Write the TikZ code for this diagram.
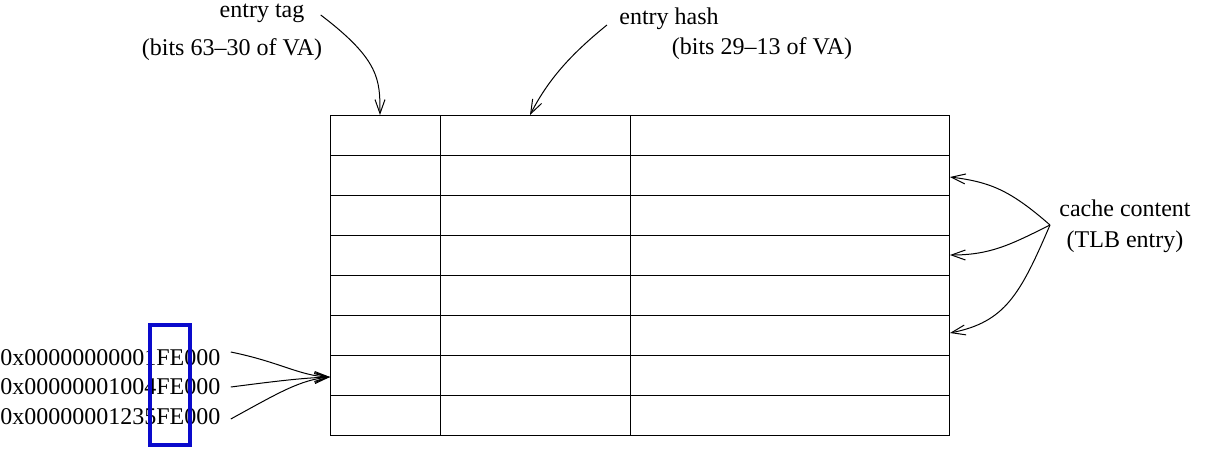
\documentclass[tikz,border=0pt]{standalone}
\usepackage{fontspec}
\setmainfont{Liberation Serif}
\usetikzlibrary{positioning,arrows.meta,calc}
\definecolor{tlbBlue}{HTML}{0A0ACC}
\tikzset{
  lbl/.style={inner sep=0pt, align=center, font=\fontsize{12}{15.5}\selectfont},
  addr/.style={inner sep=0pt, anchor=west, font=\fontsize{12}{14}\selectfont},
  grid/.style={line width=0.5pt, black},
  arr/.style={-{Straight Barb[length=7pt,width=5pt]}, line width=0.5pt, black},
  mark box/.style={draw=tlbBlue, line width=1.8pt},
}

\begin{document}
\begin{tikzpicture}[x=0.5pt, y=-0.5pt]
  \useasboundingbox (0,0) rectangle (1206,450);
  % the table
  \draw[grid] (330,115) rectangle (949,435);
  \draw[grid] (440,115) -- (440,435);
  \draw[grid] (630,115) -- (630,435);
  \foreach \y in {155,195,...,395}
    \draw[grid] (330,\y) -- (949,\y);
  \coordinate (tagcol) at (380,115);
  \coordinate (hashcol) at (530,115);
  \coordinate (row2) at (950,177);
  \coordinate (row4) at (950,255);
  \coordinate (row6) at (950,333);
  \coordinate (row7) at (330,377);
  % labels
  \node[lbl] (tag) at (262,13) {entry tag};
  \node[lbl] (tagbits) at (232,50) {(bits 63--30 of VA)};
  \node[lbl] (hash) at (669,19) {entry hash};
  \node[lbl] (hashbits) at (762,49) {(bits 29--13 of VA)};
  \node[lbl] (cache) at (1125,226) {cache content\\(TLB entry)};
  \node[addr] (va1) at (0,358) {0x00000000001FE000};
  \node[addr] (va2) at (0,387) {0x00000001004FE000};
  \node[addr] (va3) at (0,417) {0x00000001235FE000};
  \draw[mark box] (150,325) rectangle (190,445);
  % arrows
  \draw[arr] ([xshift=8pt,yshift=-1pt]tag.east) .. controls (380,60) and (380,80) .. (tagcol);
  \draw[arr] ([xshift=-6pt,yshift=-3pt]hash.west) .. controls (570,55) and (548,80) .. (hashcol);
  \coordinate (ccsrc) at (1050,225);
  \draw[arr] (ccsrc) .. controls (1010,190) and (990,182) .. (row2);
  \draw[arr] (ccsrc) .. controls (1010,245) and (990,255) .. (row4);
  \draw[arr] (ccsrc) .. controls (1020,295) and (1005,322) .. (row6);
  \draw[arr] ([xshift=5pt,yshift=3pt]va1.east) .. controls (280,362) and (300,376) .. (row7);
  \draw[arr] ([xshift=5pt]va2.east) .. controls (270,382) and (300,378) .. (row7);
  \draw[arr] ([xshift=5pt,yshift=-1pt]va3.east) .. controls (280,392) and (300,380) .. (row7);
\end{tikzpicture}
\end{document}
